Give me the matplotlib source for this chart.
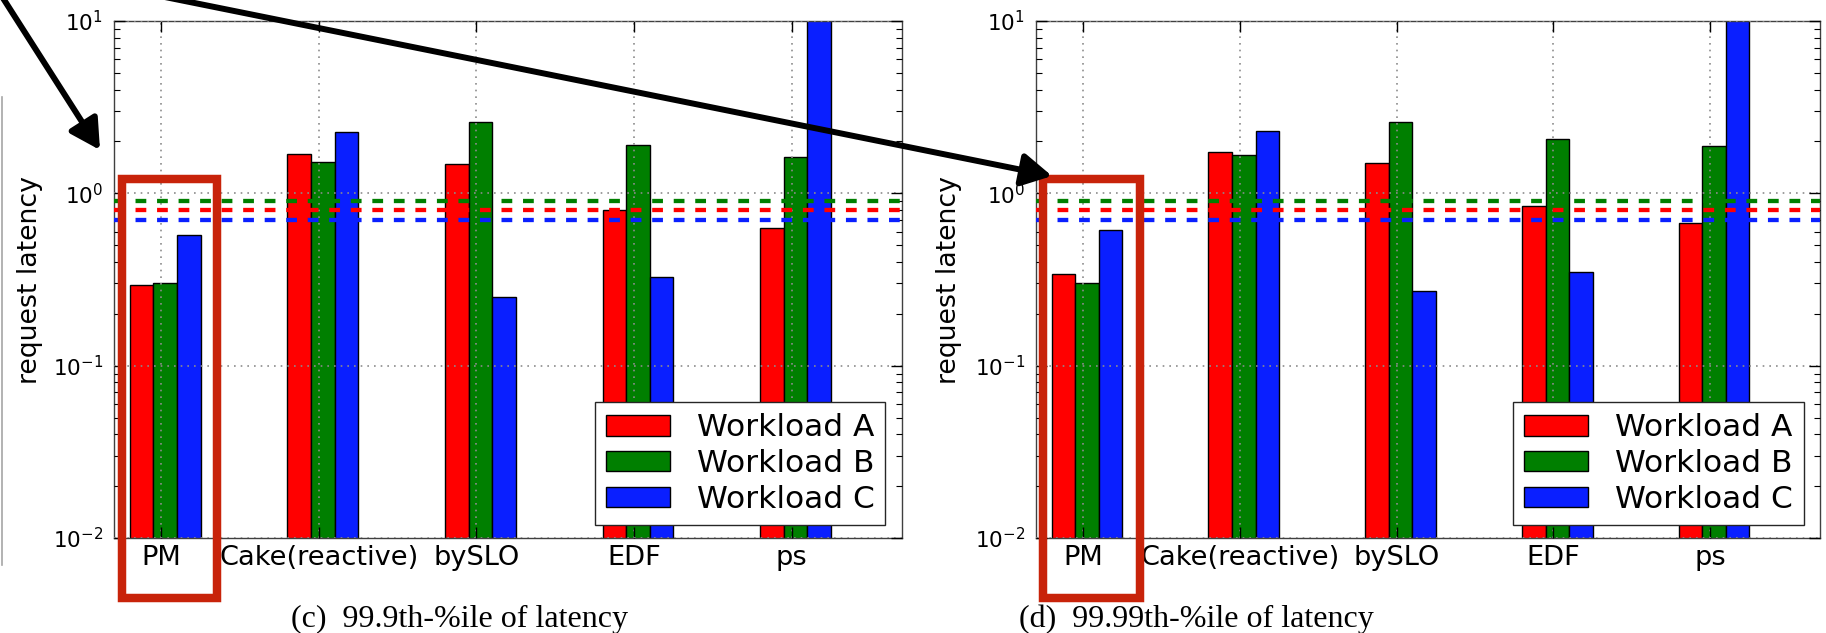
import numpy as np
import matplotlib
matplotlib.use("Agg")
import matplotlib.pyplot as plt
from matplotlib.patches import Rectangle, FancyArrowPatch
from matplotlib.lines import Line2D

# data
schedulers = ["PM", "Cake(reactive)", "bySLO", "EDF", "ps"]
workloads = ["Workload A", "Workload B", "Workload C"]
colors = ["#ff0000", "#007f00", "#0a1fff"]

# (c) 99.9th percentile
p999_a = [0.294, 1.69, 1.48, 0.80, 0.627]
p999_b = [0.300, 1.51, 2.59, 1.91, 1.62]
p999_c = [0.571, 2.26, 0.251, 0.326, 12.0]

# (d) 99.99th percentile
p9999_a = [0.342, 1.73, 1.50, 0.849, 0.67]
p9999_b = [0.303, 1.67, 2.59, 2.07, 1.88]
p9999_c = [0.613, 2.30, 0.272, 0.351, 12.0]

# SLO targets per workload (dashed lines)
slo = [0.8, 0.9, 0.7]

W, H, DPI = 1826, 633, 100
fig = plt.figure(figsize=(W / DPI, H / DPI), dpi=DPI)


def px_box(left, top, right, bottom):
    return [left / W, 1 - bottom / H, (right - left) / W, (bottom - top) / H]


def draw_panel(ax, series, ylabel_x):
    ind = np.arange(len(schedulers))
    width = 0.15
    bars = []
    for i, (vals, col) in enumerate(zip(series, colors)):
        b = ax.bar(ind + i * width, vals, width, align="edge", color=col,
                   edgecolor="black", linewidth=1.0, zorder=1)
        bars.append(b)
    for val, col in zip(slo, colors):
        ax.axhline(val, color=col, linewidth=3.1, linestyle=(0, (2.5, 2.5)),
                   zorder=3)
    ax.set_yscale("log")
    ax.set_ylim(1e-2, 1e1)
    ax.set_xlim(-0.1, 4.9)
    ax.set_xticks(ind + 0.2)
    ax.set_xticklabels(schedulers, fontsize=19.6)
    ax.tick_params(axis="y", which="major", labelsize=15.5, length=8, width=1,
                   direction="in", right=True, pad=8)
    ax.tick_params(axis="y", which="minor", length=4, width=0.8,
                   direction="in", right=True)
    ax.tick_params(axis="x", length=8, width=1, direction="in", top=True,
                   pad=5, colors="black")
    ax.set_axisbelow(False)
    ax.grid(True, which="major", color="0.55", linestyle=(0, (1, 3)),
            linewidth=1.2)
    for s in ax.spines.values():
        s.set_color("0.25")
        s.set_linewidth(1.0)
    ax.set_ylabel("request latency", fontsize=19.3)
    ax.yaxis.set_label_coords(ylabel_x, 0.5)
    leg = ax.legend(bars, workloads, loc="lower right",
                    bbox_to_anchor=(0.979, 0.025), borderaxespad=0,
                    fontsize=22.5, fancybox=False, framealpha=1,
                    handlelength=2.05, handleheight=0.62, handletextpad=0.85,
                    labelspacing=0.22, borderpad=0.35)
    leg.get_frame().set_edgecolor("0.15")
    leg.get_frame().set_linewidth(1.0)


ax1 = fig.add_axes(px_box(114, 21, 902, 538))
draw_panel(ax1, [p999_a, p999_b, p999_c], -0.090)
ax2 = fig.add_axes(px_box(1036, 21, 1820, 538))
draw_panel(ax2, [p9999_a, p9999_b, p9999_c], -0.095)

# captions
fig.text(459 / W, 1 - 627 / H, "(c)  99.9th-%ile of latency",
         family="Liberation Serif", fontsize=23, ha="center", va="baseline")
fig.text(1196 / W, 1 - 627 / H, "(d)  99.99th-%ile of latency",
         family="Liberation Serif", fontsize=23, ha="center", va="baseline")


def fx(x):
    return x / W


def fy(y):
    return 1 - y / H


# highlight boxes around PM
for left, right in [(121.7, 216.7), (1042.7, 1140.0)]:
    fig.add_artist(Rectangle((fx(left), fy(597.5)), (right - left) / W,
                             (597.5 - 178.7) / H, transform=fig.transFigure,
                             fill=False, edgecolor="#c8230a", linewidth=6.1,
                             zorder=10))

# arrows pointing at the boxes
for (x0, y0), (x1, y1) in [((1, -5), (100, 150)), ((150, -6), (1052, 176))]:
    fig.add_artist(FancyArrowPatch((fx(x0), fy(y0)), (fx(x1), fy(y1)),
                                   transform=fig.transFigure,
                                   arrowstyle="-|>,head_length=0.4,head_width=0.22",
                                   mutation_scale=45, color="black",
                                   linewidth=4.3, shrinkA=0, shrinkB=0,
                                   zorder=11))

# page edge line on the far left
fig.add_artist(Line2D([fx(1.5), fx(1.5)], [fy(97), fy(565)],
                      transform=fig.transFigure, color="0.65", linewidth=1.2))

fig.savefig("out.png", dpi=DPI)
